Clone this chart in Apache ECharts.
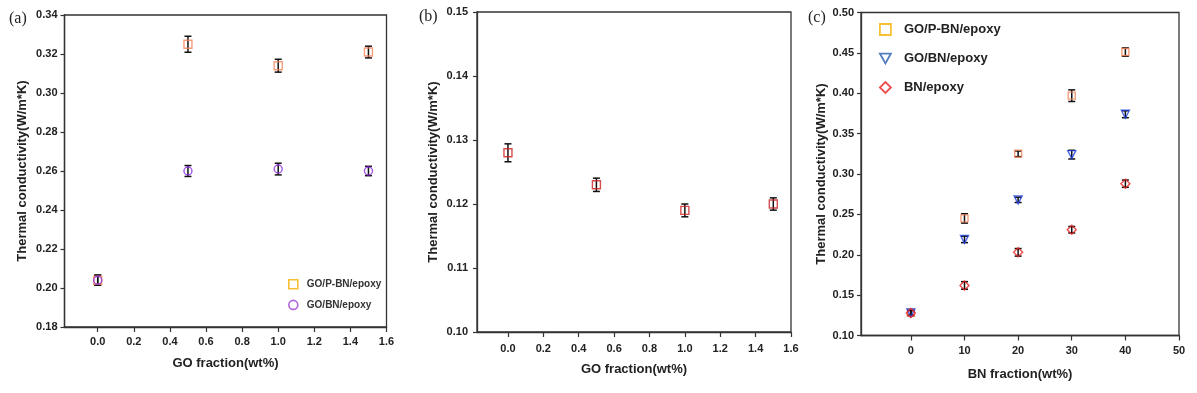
<!DOCTYPE html>
<html>
<head>
<meta charset="utf-8">
<script src="https://cdn.jsdelivr.net/npm/echarts@6/dist/echarts.min.js"></script>
<style>
html,body{margin:0;padding:0;background:#fff;}
#chart{width:1197px;height:393px;}
</style>
</head>
<body>
<div id="chart"></div>
<script>
// ---- Data ----
var goFrac = [0, 0.5, 1.0, 1.5];
var pbnA = [0.204, 0.325, 0.314, 0.321];
var pbnAErr = [0.0026, 0.0041, 0.0033, 0.0030];
var bnA = [0.204, 0.260, 0.261, 0.260];
var bnAErr = [0.0026, 0.0028, 0.0030, 0.0024];

var valsB = [0.128, 0.123, 0.119, 0.120];
var valsBErr = [0.0014, 0.00104, 0.0010, 0.00096];

var bnFrac = [0, 10, 20, 30, 40];
var pbnC = [0.128, 0.245, 0.325, 0.397, 0.451];
var pbnCErr = [0.003, 0.0058, 0.0035, 0.0072, 0.0052];
var goBnC = [0.128, 0.219, 0.268, 0.324, 0.374];
var goBnCErr = [0.003, 0.004, 0.0033, 0.0054, 0.0043];
var bnC = [0.128, 0.162, 0.203, 0.231, 0.288];
var bnCErr = [0.004, 0.0047, 0.0047, 0.004, 0.0045];

// tick labels
var xTicksGO = [0, 0.2, 0.4, 0.6, 0.8, 1.0, 1.2, 1.4, 1.6];
var xTicksBN = [0, 10, 20, 30, 40, 50];
var yTicksA = [0.18, 0.20, 0.22, 0.24, 0.26, 0.28, 0.30, 0.32, 0.34];
var yTicksB = [0.10, 0.11, 0.12, 0.13, 0.14, 0.15];
var yTicksC = [0.10, 0.15, 0.20, 0.25, 0.30, 0.35, 0.40, 0.45, 0.50];

var yName = 'Thermal conductivity(W/m*K)';

function pts(xs, ys) { return xs.map(function (x, i) { return [x, ys[i]]; }); }
function errs(xs, ys, es) { return xs.map(function (x, i) { return [x, ys[i] - es[i], ys[i] + es[i]]; }); }

function errSeries(gi, data) {
  return {
    type: 'custom', xAxisIndex: gi, yAxisIndex: gi, silent: true, z: 1,
    data: data, encode: { x: 0, y: [1, 2] },
    renderItem: function (params, api) {
      var x = api.value(0), lo = api.value(1), hi = api.value(2);
      var a = api.coord([x, hi]), b = api.coord([x, lo]);
      var w = 3.5;
      var st = { stroke: '#111', lineWidth: 1.5 };
      return { type: 'group', children: [
        { type: 'line', shape: { x1: a[0], y1: a[1], x2: b[0], y2: b[1] }, style: st },
        { type: 'line', shape: { x1: a[0] - w, y1: a[1], x2: a[0] + w, y2: a[1] }, style: st },
        { type: 'line', shape: { x1: b[0] - w, y1: b[1], x2: b[0] + w, y2: b[1] }, style: st }
      ] };
    }
  };
}

var FONT = 'Liberation Sans, Arial, sans-serif';
var nameStyle = { color: '#222', fontSize: 13, fontWeight: 'bold', fontFamily: FONT };

function xAxisDef(gi, min, max, ticks, dec, name, gap, margin) {
  return {
    gridIndex: gi, type: 'value', min: min, max: max,
    name: name, nameLocation: 'middle', nameGap: gap, nameTextStyle: nameStyle,
    axisLine: { show: true, onZero: false, lineStyle: { color: '#333', width: 1.3 } },
    axisTick: { show: true, inside: false, length: 5, customValues: ticks, lineStyle: { color: '#333', width: 1.2 } },
    axisLabel: { customValues: ticks, margin: margin, formatter: function (v) { return v.toFixed(dec); }, color: '#222', fontSize: 11, fontWeight: 'bold', fontFamily: FONT },
    splitLine: { show: false }
  };
}
function yAxisDef(gi, min, max, ticks, gap, margin) {
  return {
    gridIndex: gi, type: 'value', min: min, max: max,
    name: yName, nameLocation: 'middle', nameGap: gap, nameTextStyle: nameStyle,
    axisLine: { show: true, onZero: false, lineStyle: { color: '#333', width: 1.3 } },
    axisTick: { show: true, inside: false, length: 4, customValues: ticks, lineStyle: { color: '#333', width: 1.2 } },
    axisLabel: { customValues: ticks, margin: margin, formatter: function (v) { return v.toFixed(2); }, color: '#222', fontSize: 11, fontWeight: 'bold', fontFamily: FONT },
    splitLine: { show: false }
  };
}

var option = {
  backgroundColor: '#fff',
  animation: false,
  title: [
    { text: '(a)', left: 4, top: 6, textStyle: { fontFamily: 'Liberation Serif, serif', fontWeight: 'normal', fontSize: 16, color: '#222' } },
    { text: '(b)', left: 414, top: 4, textStyle: { fontFamily: 'Liberation Serif, serif', fontWeight: 'normal', fontSize: 16, color: '#222' } },
    { text: '(c)', left: 803, top: 5, textStyle: { fontFamily: 'Liberation Serif, serif', fontWeight: 'normal', fontSize: 16, color: '#222' } }
  ],
  grid: [
    { left: 64.5, top: 15, width: 322, height: 312, show: true, borderColor: '#333', borderWidth: 1.3, backgroundColor: 'transparent' },
    { left: 477, top: 12, width: 314, height: 320, show: true, borderColor: '#333', borderWidth: 1.3, backgroundColor: 'transparent' },
    { left: 861, top: 12.5, width: 318, height: 323, show: true, borderColor: '#333', borderWidth: 1.3, backgroundColor: 'transparent' }
  ],
  xAxis: [
    xAxisDef(0, -0.184, 1.6, xTicksGO, 1, 'GO fraction(wt%)', 30, 9),
    xAxisDef(1, -0.175, 1.6, xTicksGO, 1, 'GO fraction(wt%)', 31, 11),
    xAxisDef(2, -9.3, 50, xTicksBN, 0, 'BN fraction(wt%)', 32, 10)
  ],
  yAxis: [
    yAxisDef(0, 0.18, 0.34, yTicksA, 36, 7),
    yAxisDef(1, 0.10, 0.15, yTicksB, 37, 9),
    yAxisDef(2, 0.10, 0.50, yTicksC, 33, 7)
  ],
  legend: [
    {
      orient: 'vertical', left: 283, top: 274, itemGap: 10, itemWidth: 9, itemHeight: 9,
      textStyle: { color: '#333', fontSize: 10, fontWeight: 'bold', fontFamily: FONT, padding: [0, 0, 0, 4] },
      data: [
        { name: 'GO/P-BN/epoxy', icon: 'rect', itemStyle: { color: 'transparent', borderColor: '#f5b000', borderWidth: 1.6 } },
        { name: 'GO/BN/epoxy', icon: 'circle', itemStyle: { color: 'transparent', borderColor: '#9b3fd0', borderWidth: 1.6 } }
      ]
    },
    {
      orient: 'vertical', left: 874, top: 18, itemGap: 16, itemWidth: 11, itemHeight: 11,
      formatter: function (n) { return n.replace(/^c:/, ''); },
      textStyle: { color: '#222', fontSize: 13, fontWeight: 'bold', fontFamily: FONT, padding: [0, 0, 0, 8] },
      data: [
        { name: 'c:GO/P-BN/epoxy', icon: 'rect', itemStyle: { color: 'transparent', borderColor: '#f5b000', borderWidth: 1.8 } },
        { name: 'c:GO/BN/epoxy', icon: 'path://M0,0 L10,0 L5,9 Z', itemStyle: { color: 'transparent', borderColor: '#2a5cb0', borderWidth: 1.8 } },
        { name: 'c:BN/epoxy', icon: 'diamond', itemStyle: { color: 'transparent', borderColor: '#e82020', borderWidth: 1.8 } }
      ]
    }
  ],
  series: [
    errSeries(0, errs(goFrac, pbnA, pbnAErr)),
    errSeries(0, errs(goFrac, bnA, bnAErr)),
    { name: 'GO/P-BN/epoxy', type: 'scatter', xAxisIndex: 0, yAxisIndex: 0, symbol: 'rect', symbolSize: 8, z: 3,
      itemStyle: { color: 'transparent', borderColor: '#f0845a', borderWidth: 1.4 }, data: pts(goFrac, pbnA) },
    { name: 'GO/BN/epoxy', type: 'scatter', xAxisIndex: 0, yAxisIndex: 0, symbol: 'circle', symbolSize: 8, z: 3,
      itemStyle: { color: 'transparent', borderColor: '#8a2be2', borderWidth: 1.4 }, data: pts(goFrac, bnA) },

    errSeries(1, errs(goFrac, valsB, valsBErr)),
    { name: 'GO/BN/epoxy (b)', type: 'scatter', xAxisIndex: 1, yAxisIndex: 1, symbol: 'rect', symbolSize: 8, z: 3,
      itemStyle: { color: 'transparent', borderColor: '#cc2020', borderWidth: 1.4 }, data: pts(goFrac, valsB) },

    errSeries(2, errs(bnFrac, pbnC, pbnCErr)),
    errSeries(2, errs(bnFrac, goBnC, goBnCErr)),
    errSeries(2, errs(bnFrac, bnC, bnCErr)),
    { name: 'c:GO/P-BN/epoxy', type: 'scatter', xAxisIndex: 2, yAxisIndex: 2, symbol: 'rect', symbolSize: 7, z: 3,
      itemStyle: { color: 'transparent', borderColor: '#f0845a', borderWidth: 1.4 }, data: pts(bnFrac, pbnC) },
    { name: 'c:GO/BN/epoxy', type: 'scatter', xAxisIndex: 2, yAxisIndex: 2, symbol: 'triangle', symbolRotate: 180, symbolSize: 8, z: 3,
      itemStyle: { color: 'transparent', borderColor: '#2040e0', borderWidth: 1.4 }, data: pts(bnFrac, goBnC) },
    { name: 'c:BN/epoxy', type: 'scatter', xAxisIndex: 2, yAxisIndex: 2, symbol: 'diamond', symbolSize: 9, z: 3,
      itemStyle: { color: 'transparent', borderColor: '#e82020', borderWidth: 1.4 }, data: pts(bnFrac, bnC) }
  ]
};

var chart = echarts.init(document.getElementById('chart'), null, { renderer: 'canvas' });
chart.setOption(option);
</script>
</body>
</html>
